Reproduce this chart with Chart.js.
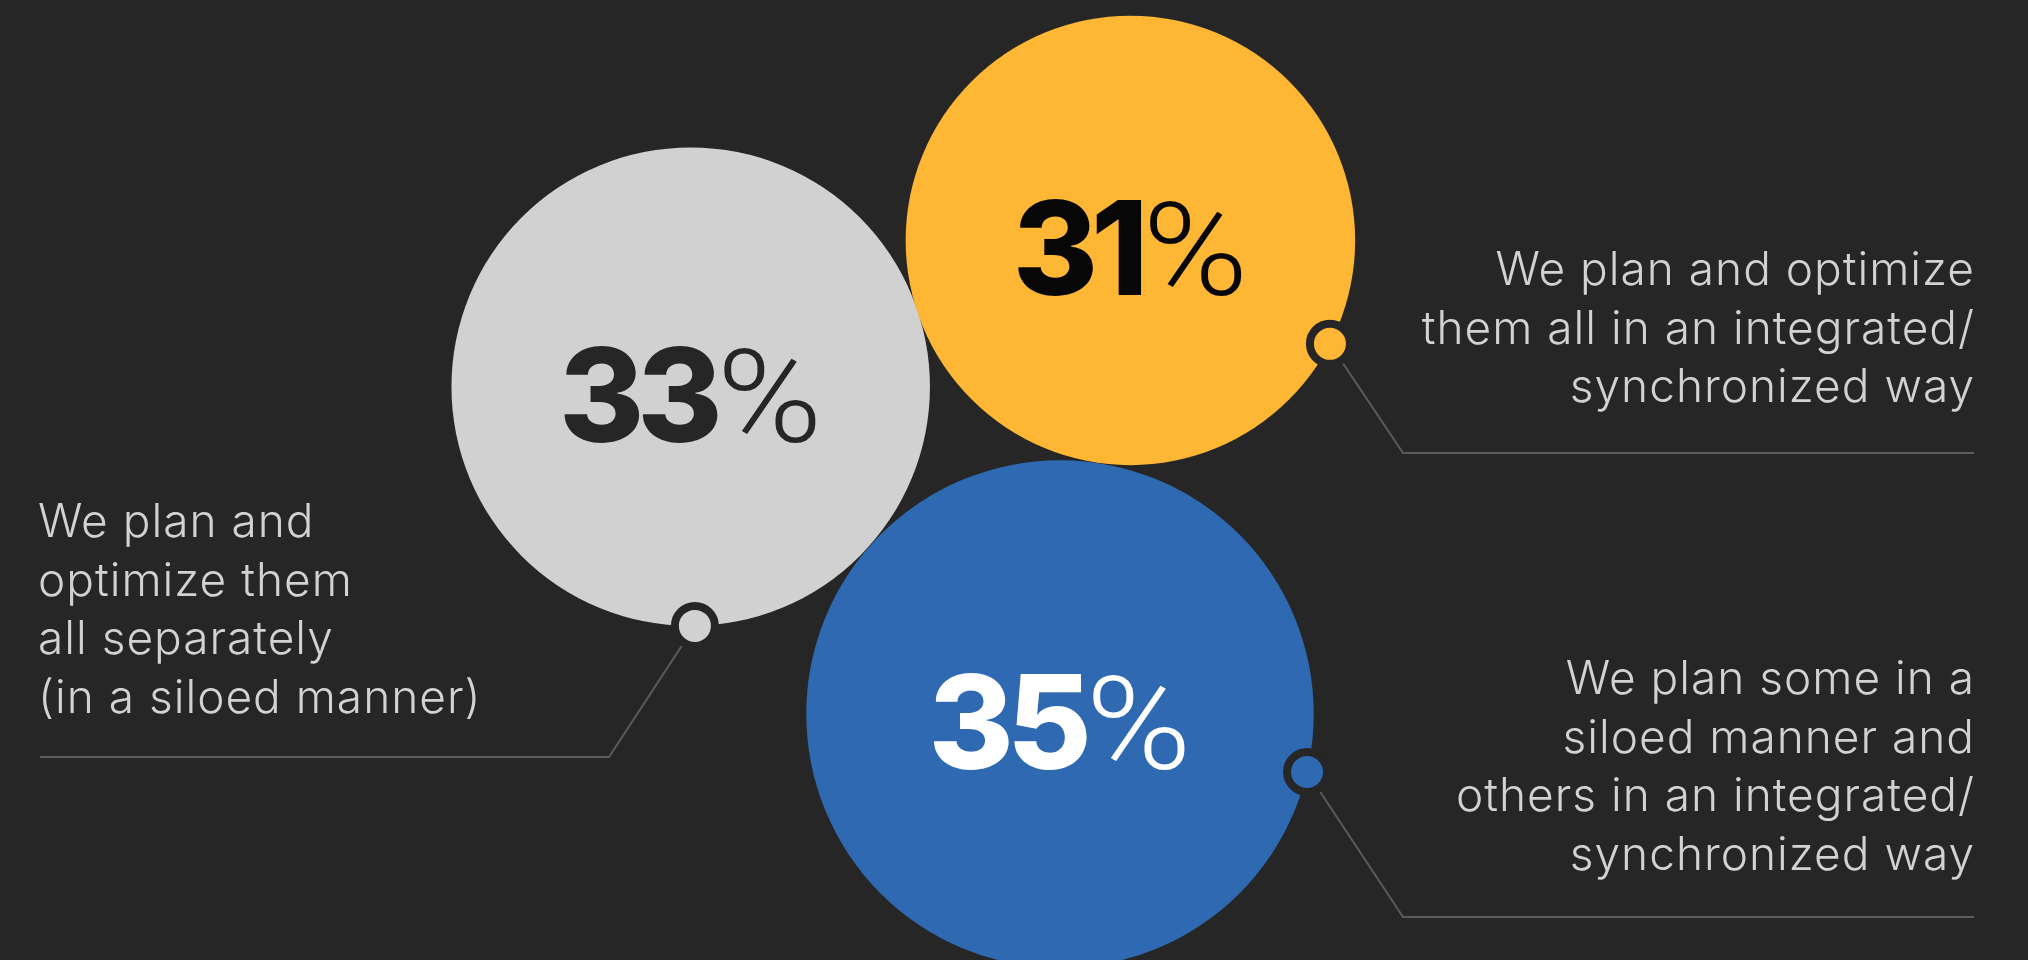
<!DOCTYPE html>
<html>
<head>
<meta charset="utf-8">
<script src="https://cdn.jsdelivr.net/npm/chart.js@4.4.1/dist/chart.umd.min.js"></script>
<style>
    html, body { margin: 0; padding: 0; background: #262626; }
    #chart { display: block; }
</style>
</head>
<body>
<canvas id="chart" width="2028" height="960"></canvas>
<script>
// answers and their shares (%)
let categories = [
    'We plan and\noptimize them\nall separately\n(in a siloed manner)',
    'We plan and optimize\nthem all in an integrated/\nsynchronized way',
    'We plan some in a\nsiloed manner and\nothers in an integrated/\nsynchronized way'
];
let values = [33, 31, 35];

// colours
let bg = '#262626';
let circleColors = ['#d1d1d1', '#fdb735', '#2f69b1'];
let numberColors = ['#262626', '#070707', '#ffffff'];
let textColor = '#d2d2d2';
let lineColor = '#5a5a5a';

// layout of the packed circles (in scale units, 1 unit = 1px)
let pxPerPoint = 7.25;
let centers = [[690.7, 386.7], [1130.4, 240.4], [1060, 714]];
let dotAngles = [89, 27.4, 13.2];
let bends = [[609, 757], [1403, 453], [1403, 917]];
let lineEnds = [40, 1974, 1974];
let textAnchor = [[38, 537, 'left'], [1975, 285, 'right'], [1975, 694, 'right']];
let lineHeight = 58.7;

let bubbles = values.map((v, i) => ({ x: centers[i][0], y: centers[i][1], r: v * pxPerPoint }));
let markers = values.map((v, i) => {
    let a = dotAngles[i] * Math.PI / 180;
    let r = v * pxPerPoint;
    return { x: centers[i][0] + Math.cos(a) * r, y: centers[i][1] + Math.sin(a) * r, r: 20 };
});

const leaderLines = {
    id: 'leaderLines',
    beforeDatasetsDraw(chart) {
        let ctx = chart.ctx;
        let xs = chart.scales.x, ys = chart.scales.y;
        ctx.save();
        ctx.strokeStyle = lineColor;
        ctx.lineWidth = 2;
        markers.forEach((m, i) => {
            ctx.beginPath();
            ctx.moveTo(xs.getPixelForValue(m.x), ys.getPixelForValue(m.y));
            ctx.lineTo(xs.getPixelForValue(bends[i][0]), ys.getPixelForValue(bends[i][1]));
            ctx.lineTo(xs.getPixelForValue(lineEnds[i]), ys.getPixelForValue(bends[i][1]));
            ctx.stroke();
        });
        ctx.restore();
    }
};

const valueLabels = {
    id: 'valueLabels',
    afterDatasetsDraw(chart) {
        let ctx = chart.ctx;
        let xs = chart.scales.x, ys = chart.scales.y;
        ctx.save();
        ctx.textBaseline = 'alphabetic';
        ctx.textAlign = 'left';
        let numFont = '800 130px Inter';
        let pctFont = '300 130px Roboto';
        let pctStretch = 1.1;
        bubbles.forEach((b, i) => {
            ctx.letterSpacing = '-7px';
            ctx.font = numFont;
            let wNum = ctx.measureText(String(values[i])).width;
            ctx.letterSpacing = '0px';
            ctx.font = pctFont;
            let wPct = ctx.measureText('%').width * pctStretch;
            let gap = 1;
            let cx = xs.getPixelForValue(b.x);
            let base = ys.getPixelForValue(b.y) + 55;
            let left = cx - (wNum + gap + wPct) / 2;
            ctx.fillStyle = numberColors[i];
            ctx.letterSpacing = '-7px';
            ctx.font = numFont;
            ctx.fillText(String(values[i]), left, base);
            ctx.letterSpacing = '0px';
            ctx.font = pctFont;
            ctx.save();
            ctx.translate(left + wNum + gap, base);
            ctx.scale(pctStretch, 1);
            ctx.fillText('%', 0, 0);
            ctx.restore();
        });

        ctx.fillStyle = textColor;
        ctx.font = '300 46px Inter';
        ctx.letterSpacing = '1px';
        categories.forEach((c, i) => {
            let [tx, ty, align] = textAnchor[i];
            ctx.textAlign = align;
            c.split('\n').forEach((line, k) => {
                ctx.fillText(line, xs.getPixelForValue(tx), ys.getPixelForValue(ty) + k * lineHeight);
            });
        });
        ctx.restore();
    }
};

new Chart(document.getElementById('chart'), {
    type: 'bubble',
    data: {
        datasets: [
            {
                label: 'markers',
                data: markers,
                backgroundColor: circleColors,
                borderColor: bg,
                borderWidth: 8,
                order: 0
            },
            {
                label: 'share',
                data: bubbles,
                backgroundColor: circleColors,
                borderWidth: 0,
                order: 1
            }
        ]
    },
    options: {
        responsive: false,
        animation: false,
        events: [],
        layout: { padding: 0, autoPadding: false },
        plugins: {
            legend: { display: false },
            tooltip: { enabled: false }
        },
        scales: {
            x: { type: 'linear', min: 0, max: 2028, display: false },
            y: { type: 'linear', min: 0, max: 960, reverse: true, display: false }
        }
    },
    plugins: [leaderLines, valueLabels]
});
</script>
</body>
</html>
